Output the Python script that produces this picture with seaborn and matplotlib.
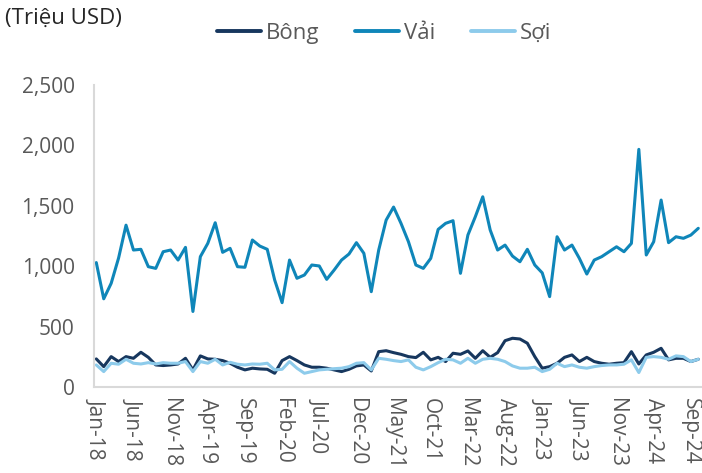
import pandas as pd
import numpy as np
import matplotlib
matplotlib.use("Agg")
import matplotlib.pyplot as plt
import matplotlib.ticker as ticker
import seaborn as sns

# monthly export values, Jan-18 .. Oct-24 (million USD)
months = pd.date_range("2018-01-01", "2024-10-01", freq="MS")

bong = [232, 168, 251, 210, 251, 237, 287, 245, 182, 177, 182, 190,
        237, 141, 257, 232, 229, 218, 196, 163, 141, 155, 149, 146,
        113, 218, 251, 218, 182, 163, 163, 155, 141, 127, 146, 174,
        182, 132, 292, 300, 284, 270, 251, 243, 287, 224, 245, 210,
        279, 270, 298, 237, 300, 245, 284, 383, 403, 397, 362, 251,
        155, 168, 196, 245, 265, 210, 245, 210, 196, 188, 196, 201,
        292, 190, 265, 287, 320, 224, 237, 237, 210, 229]

vai = [1030, 730, 858, 1068, 1340, 1134, 1140, 996, 982, 1120, 1134, 1051,
       1156, 625, 1079, 1189, 1360, 1115, 1148, 996, 991, 1217, 1167, 1140,
       886, 698, 1051, 900, 927, 1010, 1002, 891, 968, 1051, 1101, 1195,
       1107, 789, 1134, 1382, 1490, 1355, 1203, 1010, 982, 1065, 1305, 1355,
       1377, 941, 1258, 1410, 1575, 1300, 1134, 1175, 1084, 1037, 1140, 1010,
       945, 748, 1244, 1134, 1175, 1065, 935, 1051, 1079, 1120, 1161, 1120,
       1189, 1968, 1093, 1203, 1548, 1195, 1244, 1231, 1258, 1314]

soi = [182, 127, 196, 188, 229, 196, 190, 201, 190, 201, 196, 196,
       210, 127, 210, 196, 229, 182, 204, 188, 182, 190, 188, 196,
       141, 146, 210, 155, 113, 127, 141, 146, 151, 155, 168, 196,
       201, 141, 237, 229, 218, 210, 224, 163, 141, 168, 201, 229,
       224, 196, 237, 196, 229, 237, 229, 210, 174, 155, 155, 163,
       127, 146, 196, 168, 182, 163, 155, 168, 177, 182, 182, 188,
       224, 119, 245, 251, 245, 229, 257, 251, 210, 229]

series_names = ["Bông", "Vải", "Sợi"]
colors = ["#17375e", "#0f86b9", "#8dcbeb"]

df = pd.DataFrame({"idx": np.arange(len(months)), "Bông": bong, "Vải": vai, "Sợi": soi})
df_long = df.melt(id_vars="idx", var_name="loai", value_name="gia_tri")

sns.set_style("white")
plt.rcParams["font.family"] = ["Open Sans", "DejaVu Sans"]

fig = plt.figure(figsize=(7.02, 4.73), dpi=100)
ax = fig.add_axes([0.134, 0.182, 0.866, 0.638])

sns.lineplot(data=df_long, x="idx", y="gia_tri", hue="loai",
             hue_order=series_names, palette=colors, linewidth=2.2, ax=ax)

ax.set_xlim(-0.3, 81.5)
ax.set_ylim(0, 2500)
ax.yaxis.set_major_locator(ticker.MultipleLocator(500))
ax.yaxis.set_major_formatter(ticker.StrMethodFormatter("{x:,.0f}"))

tick_pos = list(range(0, len(months), 5))
ax.set_xticks(tick_pos)
ax.set_xticklabels([months[i].strftime("%b-%y") for i in tick_pos],
                   rotation=-90, fontsize=15, color="#595959")
ax.tick_params(axis="y", labelsize=15, labelcolor="#595959", pad=10, length=4)
ax.tick_params(axis="both", direction="out", width=1.5, color="#d9d9d9")
ax.tick_params(axis="x", pad=3, length=5)

for s in ["top", "right"]:
    ax.spines[s].set_visible(False)
for s in ["left", "bottom"]:
    ax.spines[s].set_color("#d9d9d9")
    ax.spines[s].set_linewidth(1.5)

ax.set_xlabel("")
ax.set_ylabel("")
ax.grid(False)

handles, labels = ax.get_legend_handles_labels()
for h in handles:
    h.set_linewidth(2.8)
ax.legend_.remove()
fig.legend(handles, labels, loc="center", bbox_to_anchor=(0.547, 0.93), ncol=3,
           frameon=False, fontsize=16, handlelength=2.0, columnspacing=1.6,
           handletextpad=0.2, labelcolor="#595959")

fig.text(0.007, 0.962, "(Triệu USD)", fontsize=16, color="#262626", va="center", ha="left")

plt.savefig("out.png", dpi=100)
